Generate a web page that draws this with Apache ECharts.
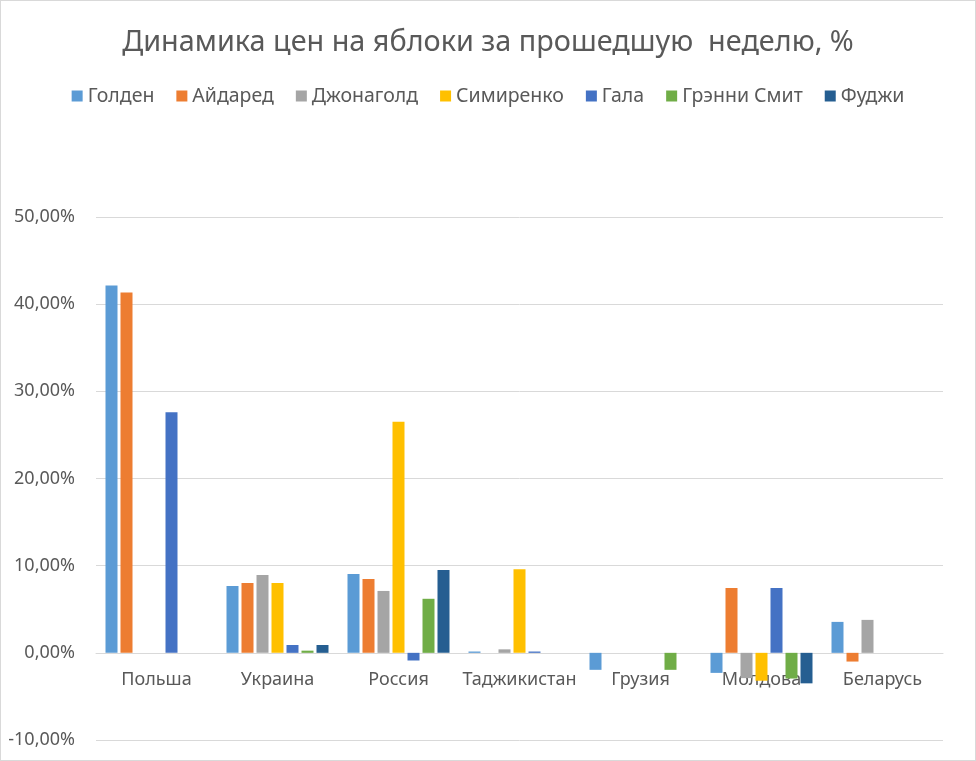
<!DOCTYPE html>
<html>
<head>
<meta charset="utf-8">
<script src="https://cdn.jsdelivr.net/npm/echarts@6/dist/echarts.min.js"></script>
<style>
html,body{margin:0;padding:0;background:#fff;}
#c{width:976px;height:761px;box-sizing:border-box;border:1px solid #d9d9d9;}
</style>
</head>
<body>
<div id="c"></div>
<script>
var categories = ['Польша','Украина','Россия','Таджикистан','Грузия','Молдова','Беларусь'];
var seriesNames = ['Голден','Айдаред','Джонаголд','Симиренко','Гала','Грэнни Смит','Фуджи'];
var golden    = [42.15, 7.67, 9.05, 0.15, -1.95, -2.3, 3.55];
var aydared   = [41.35, 8.0, 8.48, null, null, 7.45, -1.0];
var jonagold  = [null, 8.93, 7.1, 0.4, null, -2.9, 3.78];
var simirenko = [null, 8.0, 26.5, 9.6, null, -3.2, null];
var gala      = [27.6, 0.9, -0.88, 0.15, null, 7.45, null];
var granny    = [null, 0.25, 6.2, null, -1.95, -2.95, null];
var fuji      = [null, 0.9, 9.5, null, null, -3.5, null];
var yTicks = {min: -10, max: 50, interval: 10};
var colors = ['#5B9BD5','#ED7D31','#A5A5A5','#FFC000','#4472C4','#70AD47','#255E91'];

var values = [golden, aydared, jonagold, simirenko, gala, granny, fuji];
var font = 'Noto Sans';
var gridTop = 216, gridBottom = 20;
var plotH = 761 - 2 - gridTop - gridBottom;
// move category axis from the bottom edge up to the zero line
var zeroOffset = -plotH * (0 - yTicks.min) / (yTicks.max - yTicks.min);

var chart = echarts.init(document.getElementById('c'), null, {renderer: 'canvas'});
chart.setOption({
  animation: false,
  color: colors,
  title: {
    text: 'Динамика цен на яблоки за прошедшую  неделю, %',
    left: 'center',
    top: 22,
    textStyle: {fontFamily: font, fontSize: 28.8, fontWeight: 'normal', color: '#595959'}
  },
  legend: {
    top: 80,
    left: 'center',
    itemWidth: 11,
    itemHeight: 11,
    itemGap: 22,
    icon: 'rect',
    textStyle: {fontFamily: font, fontSize: 19.5, color: '#595959'},
    data: seriesNames
  },
  grid: {left: 95, right: 32, top: gridTop, bottom: gridBottom, outerBoundsMode: 'none', containLabel: false},
  xAxis: {
    type: 'category',
    data: categories,
    offset: zeroOffset,
    axisLine: {onZero: false, lineStyle: {color: '#d9d9d9', width: 1}},
    axisTick: {show: false},
    axisLabel: {interval: 0, fontFamily: font, fontSize: 18, color: '#595959', margin: 18}
  },
  yAxis: {
    type: 'value',
    min: yTicks.min,
    max: yTicks.max,
    interval: yTicks.interval,
    axisLine: {show: false},
    axisTick: {show: false},
    splitLine: {lineStyle: {color: '#d9d9d9', width: 1}},
    axisLabel: {
      fontFamily: font, fontSize: 18, color: '#595959', margin: 21,
      formatter: function (v) { return v.toFixed(2).replace('.', ',') + '%'; }
    }
  },
  series: seriesNames.map(function (n, i) {
    return {
      name: n,
      type: 'bar',
      data: values[i],
      barWidth: 12,
      barGap: '25%',
      z: 3
    };
  })
});
</script>
</body>
</html>
